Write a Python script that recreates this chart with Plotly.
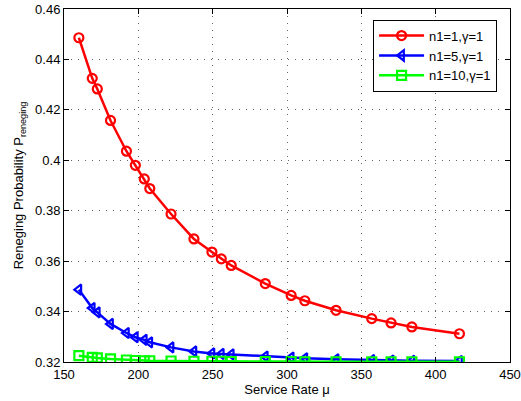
import plotly.graph_objects as go

mu = [160, 169, 172.4, 181.3, 192, 198, 204, 207.7, 222, 237.4, 249.5, 255.8,
      262.5, 285.4, 302.8, 312, 333, 357, 370, 384, 416]
p_n1 = [0.4486, 0.4325, 0.4283, 0.4158, 0.4036, 0.3980, 0.3926, 0.3888, 0.3787,
        0.3688, 0.3636, 0.3609, 0.3583, 0.3511, 0.3464, 0.3443, 0.3405, 0.3372,
        0.3355, 0.3339, 0.3312]
p_n5 = [0.3487, 0.3414, 0.3397, 0.3351, 0.3315, 0.3298, 0.3288, 0.3278, 0.3258,
        0.3242, 0.3234, 0.3232, 0.3230, 0.3222, 0.3218, 0.3215, 0.3211, 0.3208,
        0.3206, 0.3205, 0.3204]
p_n10 = [0.3225, 0.3218, 0.3216, 0.3212, 0.3208, 0.3206, 0.3205, 0.3205, 0.3204,
         0.3203, 0.3203, 0.3203, 0.3202, 0.3202, 0.3202, 0.3201, 0.3201, 0.3201,
         0.3201, 0.3201, 0.3201]
names = ["n1=1,γ=1", "n1=5,γ=1", "n1=10,γ=1"]
x_ticks = [150, 200, 250, 300, 350, 400, 450]
y_ticks = [0.32, 0.34, 0.36, 0.38, 0.4, 0.42, 0.44, 0.46]
y_ticktext = ["0.32", "0.34", "0.36", "0.38", "0.4", "0.42", "0.44", "0.46"]

FONT = "Liberation Sans, Arial"
fig = go.Figure()
styles = [("#ff0000", "circle-open"), ("#0000ff", "triangle-left-open"), ("#00ff00", "square-open")]
for ys, name, (col, sym) in zip([p_n1, p_n5, p_n10], names, styles):
    fig.add_trace(go.Scatter(
        x=mu, y=ys, name=name, mode="lines+markers",
        line=dict(color=col, width=2.5),
        marker=dict(symbol=sym, size=9, color=col, line=dict(color=col, width=2.2)),
    ))

axis_common = dict(
    showline=True, linecolor="black", linewidth=1, mirror="ticks",
    ticks="inside", ticklen=5, tickcolor="black", automargin=False,
    showgrid=True, gridcolor="#666666", griddash="1px,6px", gridwidth=1,
    zeroline=False, tickfont=dict(family=FONT, size=13, color="black"),
)
fig.update_xaxes(range=[150, 450], tickvals=x_ticks, **axis_common,
                 title=dict(text="Service Rate μ", font=dict(family=FONT, size=13, color="black"), standoff=3))
fig.update_yaxes(range=[0.32, 0.46], tickvals=y_ticks, ticktext=y_ticktext, **axis_common,
                 title=dict(text="Reneging Probability P<sub>reneging</sub>", font=dict(family=FONT, size=13, color="black"), standoff=8))

fig.update_layout(
    width=521, height=401,
    margin=dict(l=64, r=11, t=9, b=39),
    plot_bgcolor="white", paper_bgcolor="white",
    font=dict(family=FONT, size=13, color="black"),
    legend=dict(x=0.971, y=0.97, xanchor="right", yanchor="top",
                bordercolor="black", borderwidth=1, bgcolor="white",
                font=dict(size=13), tracegroupgap=0, itemwidth=45),
)
fig.write_html("out.html", config={"displayModeBar": False},
               post_script="document.body.style.margin='0';document.body.style.overflow='hidden';")
